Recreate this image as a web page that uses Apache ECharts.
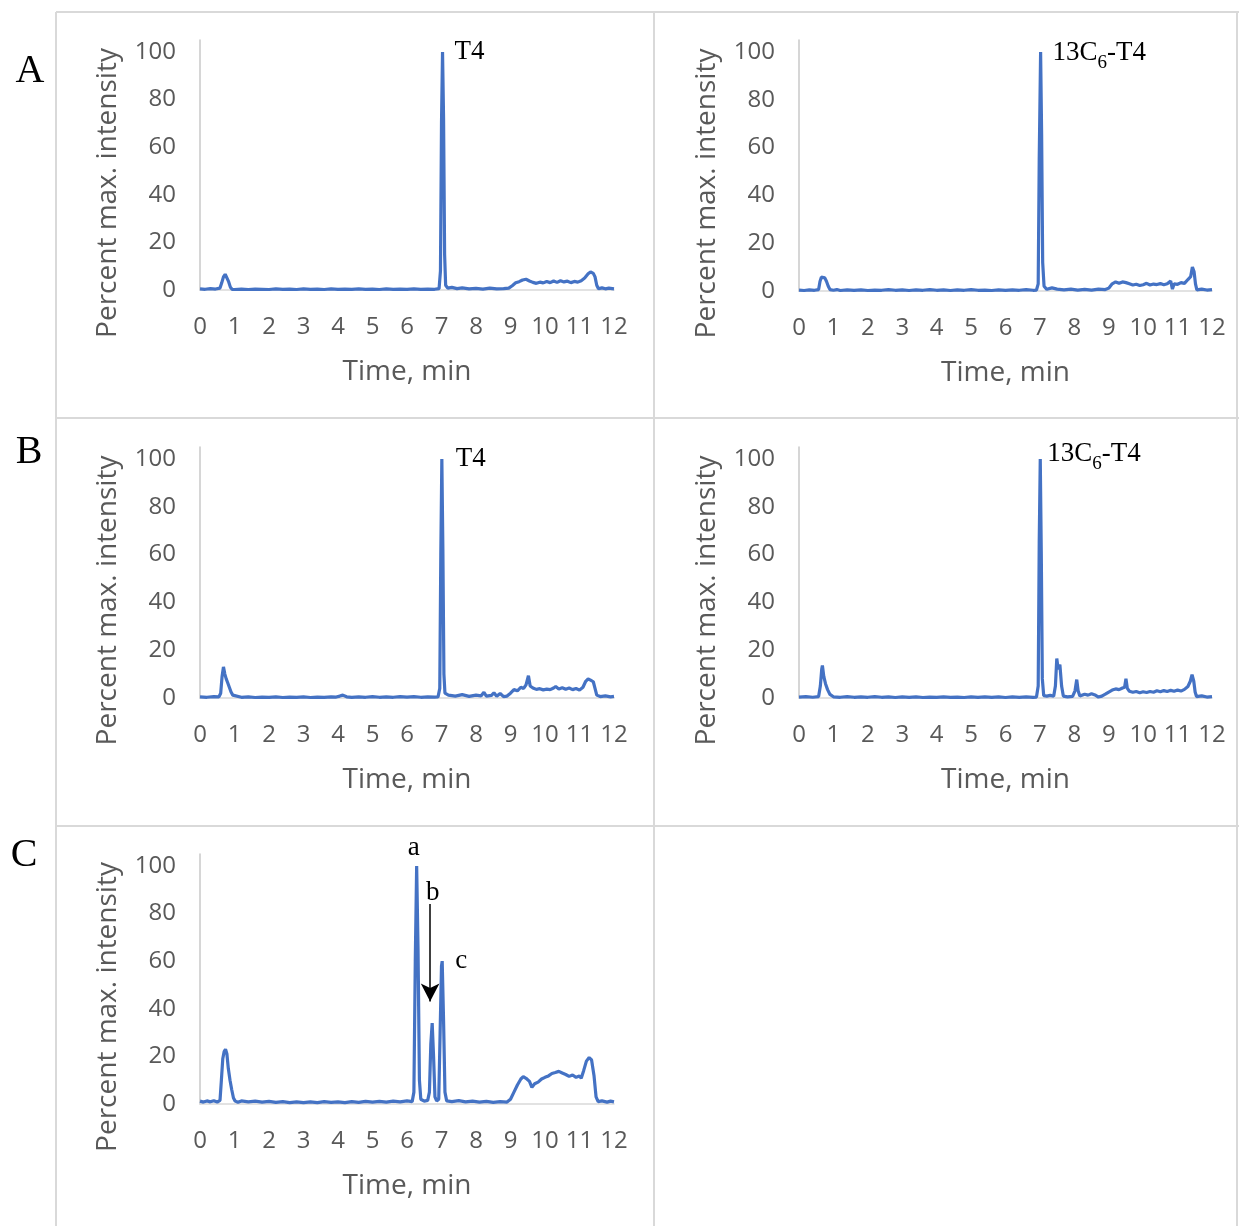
<!DOCTYPE html>
<html>
<head>
<meta charset="utf-8">
<script src="https://cdn.jsdelivr.net/npm/echarts@6/dist/echarts.min.js"></script>
<style>
  html, body { margin: 0; padding: 0; background: #fff; }
  #chart { width: 1239px; height: 1226px; }
</style>
</head>
<body>
<div id="chart"></div>
<script>
// tick labels
const xTicks = [0, 1, 2, 3, 4, 5, 6, 7, 8, 9, 10, 11, 12];
const yTicks = [0, 20, 40, 60, 80, 100];

// A: T4 trace, [time min, percent]
const traceA_T4 = [[0,0.5],[0.15,0.3],[0.3,0.6],[0.45,0.4],[0.58,0.8],[0.63,3],[0.68,5.5],[0.73,6.6],[0.78,5.8],[0.83,3.5],[0.88,1.2],[0.93,0.3],[1.0,0.2],[1.2,0.4],[1.4,0.2],[1.6,0.4],[1.8,0.3],[2.0,0.2],[2.2,0.5],[2.4,0.3],[2.6,0.4],[2.8,0.2],[3.0,0.5],[3.2,0.3],[3.4,0.4],[3.6,0.2],[3.8,0.5],[4.0,0.3],[4.2,0.4],[4.4,0.3],[4.6,0.5],[4.8,0.3],[5.0,0.4],[5.2,0.2],[5.4,0.5],[5.6,0.3],[5.8,0.4],[6.0,0.3],[6.2,0.5],[6.4,0.3],[6.6,0.4],[6.8,0.3],[6.93,0.6],[6.97,8],[7.0,70],[7.03,100],[7.06,72],[7.09,15],[7.12,2],[7.18,0.8],[7.3,1.1],[7.45,0.6],[7.6,0.9],[7.8,0.5],[8.0,0.7],[8.2,0.4],[8.4,0.8],[8.6,0.5],[8.8,0.6],[8.95,0.8],[9.05,1.8],[9.15,3],[9.25,3.5],[9.35,4.2],[9.45,4.5],[9.55,3.8],[9.65,3.2],[9.75,2.8],[9.85,3.3],[9.95,3.0],[10.05,3.6],[10.15,3.1],[10.25,3.8],[10.35,3.2],[10.45,3.9],[10.55,3.4],[10.65,3.7],[10.75,3.1],[10.85,3.6],[10.95,3.3],[11.05,3.9],[11.15,5],[11.25,6.8],[11.32,7.6],[11.4,7.0],[11.45,5.5],[11.5,2],[11.55,0.5],[11.65,0.9],[11.75,0.5],[11.85,0.8],[12,0.5]];

// A: 13C6-T4 trace
const traceA_IS = [[0,0.4],[0.15,0.2],[0.3,0.5],[0.45,0.3],[0.57,0.6],[0.61,4],[0.65,5.8],[0.7,5.2],[0.75,5.5],[0.8,4],[0.85,2],[0.9,0.6],[1.0,0.3],[1.1,0.6],[1.2,0.2],[1.4,0.5],[1.6,0.3],[1.8,0.5],[2.0,0.2],[2.2,0.4],[2.4,0.3],[2.6,0.6],[2.8,0.3],[3.0,0.5],[3.2,0.2],[3.4,0.5],[3.6,0.3],[3.8,0.6],[4.0,0.3],[4.2,0.5],[4.4,0.2],[4.6,0.5],[4.8,0.3],[5.0,0.6],[5.2,0.3],[5.4,0.4],[5.6,0.2],[5.8,0.5],[6.0,0.3],[6.2,0.5],[6.4,0.3],[6.6,0.6],[6.8,0.3],[6.9,0.4],[6.95,3],[6.98,55],[7.02,100],[7.05,65],[7.08,12],[7.12,2],[7.2,0.7],[7.35,1.3],[7.5,0.8],[7.7,0.5],[7.9,0.8],[8.1,0.4],[8.3,0.7],[8.5,0.4],[8.7,0.8],[8.9,0.6],[9.0,1.2],[9.1,3],[9.2,3.8],[9.3,3.2],[9.4,3.8],[9.5,3.5],[9.6,3.0],[9.7,2.5],[9.8,2.8],[9.9,2.3],[10.0,2.6],[10.1,3.2],[10.2,2.5],[10.3,2.9],[10.4,2.7],[10.5,3.1],[10.6,2.6],[10.7,3.0],[10.8,4.2],[10.85,0.8],[10.9,3.0],[11.0,2.8],[11.1,3.5],[11.2,3.2],[11.3,4.8],[11.38,6],[11.43,10],[11.48,8],[11.52,3],[11.56,0.5],[11.7,0.8],[11.85,0.4],[12,0.6]];

// B: T4 trace
const traceB_T4 = [[0,0.5],[0.2,0.3],[0.4,0.6],[0.55,0.5],[0.6,2],[0.64,9],[0.68,13],[0.72,10],[0.76,8],[0.8,6.5],[0.85,4.5],[0.9,2.5],[0.95,1.2],[1.0,0.6],[1.2,0.3],[1.4,0.5],[1.6,0.2],[1.8,0.4],[2.0,0.3],[2.2,0.5],[2.4,0.2],[2.6,0.4],[2.8,0.3],[3.0,0.5],[3.2,0.2],[3.4,0.4],[3.6,0.3],[3.8,0.5],[3.95,0.4],[4.05,0.8],[4.14,1.2],[4.25,0.5],[4.4,0.3],[4.6,0.5],[4.8,0.3],[5.0,0.6],[5.2,0.3],[5.4,0.5],[5.6,0.3],[5.8,0.6],[6.0,0.4],[6.2,0.6],[6.4,0.3],[6.6,0.5],[6.8,0.4],[6.9,0.5],[6.95,4],[6.98,60],[7.01,100],[7.04,62],[7.07,10],[7.1,2],[7.2,1.2],[7.4,0.8],[7.6,1.4],[7.8,0.7],[8.0,1.2],[8.15,0.9],[8.23,2.4],[8.3,0.8],[8.45,1.1],[8.52,2.2],[8.6,0.7],[8.7,1.9],[8.8,0.6],[8.9,0.8],[9.0,2],[9.1,3.5],[9.2,3.0],[9.3,4.5],[9.38,4.0],[9.45,5.5],[9.52,9.3],[9.57,5],[9.65,4.2],[9.75,3.6],[9.85,3.9],[9.95,3.4],[10.05,3.7],[10.15,3.5],[10.25,4.2],[10.31,4.8],[10.4,3.8],[10.5,4.3],[10.6,3.7],[10.7,4.2],[10.8,3.5],[10.9,4.0],[11.0,3.3],[11.1,4.5],[11.18,7],[11.25,8],[11.32,7.5],[11.4,6.8],[11.45,4],[11.5,1.2],[11.6,0.6],[11.75,0.9],[11.9,0.5],[12,0.7]];

// B: 13C6-T4 trace
const traceB_IS = [[0,0.4],[0.2,0.6],[0.4,0.3],[0.57,0.6],[0.62,5],[0.66,12],[0.68,13.6],[0.72,9],[0.77,6],[0.83,3.5],[0.9,1.5],[1.0,0.5],[1.2,0.3],[1.4,0.6],[1.6,0.3],[1.8,0.5],[2.0,0.3],[2.2,0.6],[2.4,0.3],[2.6,0.5],[2.8,0.2],[3.0,0.5],[3.2,0.3],[3.4,0.5],[3.6,0.2],[3.8,0.4],[4.0,0.3],[4.2,0.5],[4.4,0.3],[4.6,0.4],[4.8,0.2],[5.0,0.5],[5.2,0.3],[5.4,0.5],[5.6,0.3],[5.8,0.5],[6.0,0.2],[6.2,0.5],[6.4,0.3],[6.6,0.5],[6.8,0.3],[6.9,0.4],[6.95,5],[6.98,65],[7.01,100],[7.04,60],[7.07,8],[7.11,1],[7.2,0.8],[7.3,1.1],[7.4,0.7],[7.45,5],[7.49,16.5],[7.53,12],[7.58,14],[7.63,5],[7.68,0.8],[7.8,0.5],[7.95,0.7],[8.02,3],[8.07,7.7],[8.11,3],[8.16,0.8],[8.3,1.6],[8.4,1.2],[8.5,1.8],[8.6,1.3],[8.7,0.4],[8.8,0.8],[8.9,1.6],[9.0,2.5],[9.1,3.3],[9.2,3.8],[9.3,3.5],[9.4,4.2],[9.46,4.5],[9.5,8.1],[9.54,4],[9.6,2.8],[9.7,2.4],[9.8,2.7],[9.9,2.2],[10.0,2.6],[10.1,2.3],[10.2,2.7],[10.3,2.4],[10.4,3.0],[10.5,2.6],[10.6,3.1],[10.7,2.7],[10.8,3.2],[10.9,2.8],[11.0,3.3],[11.1,2.9],[11.2,3.6],[11.3,4.8],[11.37,7],[11.42,9.8],[11.47,7],[11.51,2.5],[11.55,0.6],[11.7,0.9],[11.85,0.4],[12,0.6]];

// C: mixture trace (a, b, c)
const traceC = [[0,1.2],[0.1,0.8],[0.2,1.3],[0.3,0.9],[0.4,1.4],[0.5,0.8],[0.58,1.5],[0.62,10],[0.66,19],[0.7,22],[0.74,23],[0.78,21],[0.82,15],[0.87,10],[0.92,6],[0.97,2.5],[1.02,1.2],[1.1,0.7],[1.2,1.3],[1.4,0.9],[1.6,1.2],[1.8,0.8],[2.0,1.1],[2.2,0.7],[2.4,1.0],[2.6,0.6],[2.8,0.9],[3.0,0.6],[3.2,0.9],[3.4,0.6],[3.6,1.0],[3.8,0.7],[4.0,0.9],[4.2,0.6],[4.4,1.0],[4.6,0.7],[4.8,1.1],[5.0,0.8],[5.2,1.1],[5.4,0.8],[5.6,1.2],[5.8,0.9],[6.0,1.3],[6.15,1],[6.2,5],[6.24,60],[6.28,100],[6.32,65],[6.36,10],[6.4,2],[6.5,1.2],[6.6,1.5],[6.65,5],[6.69,25],[6.73,34],[6.77,20],[6.81,3],[6.86,1.3],[6.92,2],[6.96,30],[7.0,58],[7.02,60],[7.06,35],[7.1,5],[7.15,1.3],[7.3,1.0],[7.5,1.4],[7.7,0.9],[7.9,1.2],[8.1,0.8],[8.3,1.1],[8.5,0.7],[8.7,1.0],[8.9,0.8],[9.0,2],[9.1,5],[9.2,8],[9.3,10.5],[9.37,11.5],[9.45,10.8],[9.55,9.5],[9.62,7],[9.7,8.5],[9.8,9.2],[9.9,10.5],[10.0,11.2],[10.1,11.8],[10.2,12.8],[10.3,13.2],[10.4,13.7],[10.5,13],[10.6,12.4],[10.7,11.6],[10.8,12.2],[10.9,11.2],[11.0,11.8],[11.05,10.8],[11.12,14],[11.2,18],[11.28,19.5],[11.35,18.5],[11.42,12],[11.48,3],[11.54,1],[11.65,1.3],[11.8,0.8],[11.9,1.2],[12,0.9]];

const traces = [traceA_T4, traceA_IS, traceB_T4, traceB_IS, traceC];
const panelLetters = ['A', 'B', 'C'];

const chart = echarts.init(document.getElementById('chart'));

const gridBoxes = [
  { left: 200, top: 40, width: 414, height: 250 },
  { left: 799, top: 40, width: 413, height: 251 },
  { left: 200, top: 447, width: 414, height: 251 },
  { left: 799, top: 447, width: 413, height: 251 },
  { left: 200, top: 854, width: 414, height: 250 },
];

const tickFont = { color: '#595959', fontSize: 24, fontFamily: 'Open Sans' };
const nameFont = { color: '#595959', fontSize: 28, fontFamily: 'Open Sans' };
const serif = 'Liberation Serif';

function peakLabel(coord, text, dx, dy) {
  return {
    coord: coord,
    label: {
      show: true,
      position: 'right',
      offset: [dx, dy],
      formatter: text,
      color: '#000',
      fontFamily: serif,
      fontSize: 27,
      rich: {
        base: { fontFamily: serif, fontSize: 27, color: '#000', lineHeight: 30 },
        sub: { fontFamily: serif, fontSize: 19, color: '#000', lineHeight: 30, padding: [20, 0, 0, 0] },
      },
    },
  };
}

const xAxis = gridBoxes.map((g, i) => ({
  gridIndex: i,
  type: 'value',
  min: 0,
  max: 12,
  interval: 1,
  name: 'Time, min',
  nameLocation: 'middle',
  nameGap: 68,
  nameTextStyle: nameFont,
  axisLine: { show: true, lineStyle: { color: '#d9d9d9', width: 1.5 } },
  axisTick: { show: false },
  splitLine: { show: false },
  axisLabel: Object.assign({
    margin: 25,
    formatter: v => (xTicks.indexOf(v) >= 0 ? String(v) : ''),
  }, tickFont),
}));

const yAxis = gridBoxes.map((g, i) => ({
  gridIndex: i,
  type: 'value',
  min: 0,
  max: 105,
  interval: 20,
  name: 'Percent max. intensity',
  nameLocation: 'middle',
  nameGap: 78,
  nameTextStyle: Object.assign({ padding: [0, 56, 0, 0] }, nameFont),
  axisLine: { show: true, lineStyle: { color: '#c8c8c8', width: 1.5 } },
  axisTick: { show: false },
  splitLine: { show: false },
  axisLabel: Object.assign({
    margin: 24,
    formatter: v => (yTicks.indexOf(v) >= 0 ? String(v) : ''),
  }, tickFont),
}));

const markers = [
  [peakLabel([7.03, 100], 'T4', 7, 0)],
  [peakLabel([7.02, 100], '{base|13C}{sub|6}{base|-T4}', 7, 1)],
  [peakLabel([7.01, 100], 'T4', 9, 0)],
  [peakLabel([7.01, 100], '{base|13C}{sub|6}{base|-T4}', 2, -5)],
  [
    peakLabel([6.28, 100], 'a', -14, -18),
    peakLabel([6.67, 84], 'b', -9, -11),
    peakLabel([7.02, 60], 'c', 8, 0),
  ],
];

const series = traces.map((d, i) => {
  const s = {
    type: 'line',
    xAxisIndex: i,
    yAxisIndex: i,
    data: d,
    symbol: 'none',
    clip: false,
    lineStyle: { color: '#4472C4', width: 3.2 },
    markPoint: {
      symbol: 'circle',
      symbolSize: 0,
      silent: true,
      data: markers[i],
    },
  };
  if (i === 4) {
    s.markLine = {
      silent: true,
      symbol: ['none', 'arrow'],
      symbolSize: [14, 18],
      label: { show: false },
      lineStyle: { color: '#000', width: 1.5, type: 'solid' },
      data: [[{ coord: [6.67, 84] }, { coord: [6.67, 43] }]],
    };
  }
  return s;
});

const border = { stroke: '#d9d9d9', lineWidth: 2 };
const lines = [
  [56, 12, 1239, 12], [56, 418, 1239, 418], [56, 826, 1239, 826],
  [56, 12, 56, 1226], [654, 12, 654, 1226], [1237, 12, 1237, 1226],
];
const graphic = lines.map(l => ({
  type: 'line', silent: true,
  shape: { x1: l[0], y1: l[1], x2: l[2], y2: l[3] },
  style: border,
}));
[[30, 71], [29, 452], [24, 855]].forEach((p, i) => {
  graphic.push({
    type: 'text', silent: true, x: p[0], y: p[1],
    style: {
      text: panelLetters[i], fill: '#000', font: '40px "Liberation Serif"',
      textAlign: 'center', textVerticalAlign: 'middle',
    },
  });
});

chart.setOption({
  animation: false,
  grid: gridBoxes,
  xAxis: xAxis,
  yAxis: yAxis,
  series: series,
  graphic: graphic,
});
</script>
</body>
</html>
